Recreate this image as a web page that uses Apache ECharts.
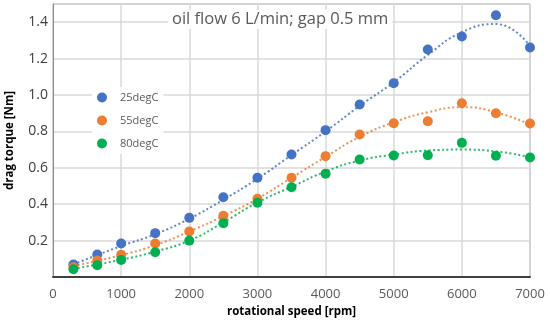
<!DOCTYPE html>
<html><head><meta charset="utf-8">
<script src="https://cdn.jsdelivr.net/npm/echarts@6/dist/echarts.min.js"></script>
<style>html,body{margin:0;padding:0;background:#fff}#c{width:550px;height:322px}</style>
</head><body><div id="c"></div>
<script>
var speeds = [300, 650, 1000, 1500, 2000, 2500, 3000, 3500, 4000, 4500, 5000, 5500, 6000, 6500, 7000];
var t25 = [0.069, 0.124, 0.184, 0.241, 0.325, 0.438, 0.545, 0.673, 0.807, 0.948, 1.065, 1.25, 1.321, 1.438, 1.261];
var t55 = [0.054, 0.091, 0.122, 0.184, 0.25, 0.336, 0.43, 0.545, 0.664, 0.783, 0.845, 0.856, 0.955, 0.9, 0.843];
var t80 = [0.043, 0.065, 0.094, 0.136, 0.2, 0.296, 0.408, 0.493, 0.567, 0.646, 0.668, 0.669, 0.737, 0.666, 0.657];

var trendX = [300, 1000, 1500, 2000, 2500, 3000, 3500, 4000, 4500, 5000, 5500, 6000, 6500, 7000];
var trend25 = [0.07, 0.17, 0.235, 0.32, 0.425, 0.54, 0.67, 0.8, 0.94, 1.07, 1.22, 1.345, 1.39, 1.27];
var trend55 = [0.06, 0.12, 0.175, 0.25, 0.335, 0.43, 0.545, 0.66, 0.77, 0.85, 0.905, 0.933, 0.905, 0.838];
var trend80 = [0.045, 0.095, 0.14, 0.2, 0.3, 0.41, 0.495, 0.58, 0.64, 0.673, 0.695, 0.70, 0.69, 0.658];

var names = ['25degC', '55degC', '80degC'];
var colors = ['#4472C4', '#ED7D31', '#00B050'];
var title = 'oil flow 6 L/min; gap 0.5 mm';

function pairs(xs, ys) { return xs.map(function (x, i) { return [x, ys[i]]; }); }

var chart = echarts.init(document.getElementById('c'));
var pts = [t25, t55, t80], trs = [trend25, trend55, trend80];
var series = [];
for (var i = 0; i < 3; i++) {
  series.push({
    name: names[i], type: 'line', smooth: 0.5, symbol: 'none', silent: true,
    data: pairs(trendX, trs[i]),
    lineStyle: { color: colors[i], width: 2, type: [2, 2.5], opacity: 0.85 },
    z: 2
  });
}
for (var j = 0; j < 3; j++) {
  series.push({
    name: names[j], type: 'scatter', symbolSize: 10,
    data: pairs(speeds, pts[j]),
    itemStyle: { color: colors[j], opacity: 1 },
    z: 3
  });
}

chart.setOption({
  animation: false,
  backgroundColor: '#fff',
  color: colors,
  title: {
    text: title, left: 168, top: 10,
    backgroundColor: '#fff', padding: [1, 4],
    textStyle: { fontFamily: 'Open Sans', fontSize: 16.5, fontWeight: 'normal', color: '#595959' }
  },
  legend: {
    data: names, orient: 'vertical', left: 92, top: 87, itemGap: 12,
    icon: 'circle', itemWidth: 10, itemHeight: 10,
    backgroundColor: '#fff',
    textStyle: { fontFamily: 'Open Sans', fontSize: 11, color: '#595959', padding: [0, 0, 0, 8] }
  },
  grid: { left: 53, right: 20, top: 4, bottom: 45, show: true, borderColor: '#8c8c8c', borderWidth: 1,
    containLabel: false, outerBoundsMode: 'none' },
  xAxis: {
    type: 'value', min: 0, max: 7000, interval: 1000,
    name: 'rotational speed [rpm]', nameLocation: 'middle', nameGap: 28,
    nameTextStyle: { fontFamily: 'Open Sans', fontSize: 11.5, fontWeight: 'bold', color: '#000' },
    axisLine: { show: true, lineStyle: { color: '#404040', width: 2 } },
    axisTick: { show: false },
    axisLabel: { fontFamily: 'Open Sans', fontSize: 13, color: '#595959', margin: 11,
      formatter: function (v) { return String(v); } },
    splitLine: { show: true, lineStyle: { color: '#d9d9d9', width: 1.5 } }
  },
  yAxis: {
    type: 'value', min: 0, max: 1.5, interval: 0.2,
    name: 'drag torque [Nm]', nameLocation: 'middle', nameGap: 37,
    nameTextStyle: { fontFamily: 'Open Sans', fontSize: 11.5, fontWeight: 'bold', color: '#000' },
    axisLine: { show: true, lineStyle: { color: '#8c8c8c', width: 1 } },
    axisTick: { show: false },
    axisLabel: {
      fontFamily: 'Open Sans', fontSize: 14, color: '#404040', margin: 5,
      formatter: function (v) { if (v === 0 || v > 1.45) return ''; return v.toFixed(1); }
    },
    splitLine: { show: true, lineStyle: { color: '#d9d9d9', width: 1.5 } }
  },
  series: series
});
</script></body></html>
